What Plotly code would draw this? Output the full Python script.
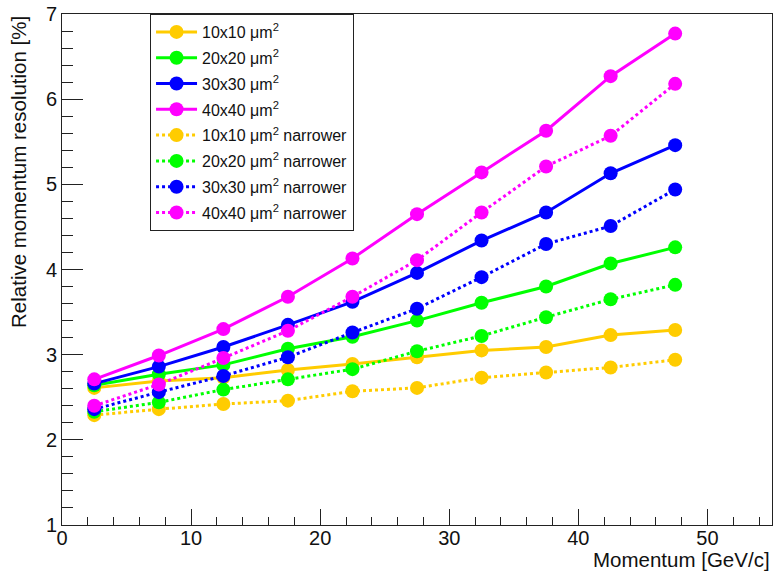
import plotly.graph_objects as go

# Momentum bin centres [GeV/c]
momentum = [2.5, 7.5, 12.5, 17.5, 22.5, 27.5, 32.5, 37.5, 42.5, 47.5]

# Relative momentum resolution [%] per pixel size
res_10 = [2.61, 2.69, 2.73, 2.82, 2.89, 2.97, 3.05, 3.09, 3.23, 3.29]
res_20 = [2.64, 2.77, 2.88, 3.07, 3.21, 3.40, 3.61, 3.80, 4.07, 4.26]
res_30 = [2.66, 2.86, 3.09, 3.35, 3.62, 3.96, 4.34, 4.67, 5.13, 5.46]
res_40 = [2.71, 2.99, 3.30, 3.68, 4.13, 4.65, 5.14, 5.63, 6.27, 6.77]

# Same pixel sizes, narrower configuration
res_10n = [2.29, 2.36, 2.42, 2.46, 2.57, 2.61, 2.73, 2.79, 2.85, 2.94]
res_20n = [2.33, 2.44, 2.59, 2.71, 2.83, 3.04, 3.22, 3.44, 3.65, 3.82]
res_30n = [2.36, 2.56, 2.75, 2.97, 3.26, 3.54, 3.91, 4.30, 4.51, 4.94]
res_40n = [2.40, 2.65, 2.96, 3.28, 3.68, 4.11, 4.67, 5.21, 5.57, 6.18]

names = [
    "10x10 \u03bcm<sup>2</sup>",
    "20x20 \u03bcm<sup>2</sup>",
    "30x30 \u03bcm<sup>2</sup>",
    "40x40 \u03bcm<sup>2</sup>",
    "10x10 \u03bcm<sup>2</sup> narrower",
    "20x20 \u03bcm<sup>2</sup> narrower",
    "30x30 \u03bcm<sup>2</sup> narrower",
    "40x40 \u03bcm<sup>2</sup> narrower",
]
series = [res_10, res_20, res_30, res_40, res_10n, res_20n, res_30n, res_40n]
colors = ["#FFCC00", "#00FF00", "#0000FF", "#FF00FF"] * 2
dashes = ["solid"] * 4 + ["dot"] * 4

FONT = "Liberation Sans, Arial, Helvetica, sans-serif"

fig = go.Figure()
for i, (name, ys, col, dash) in enumerate(zip(names, series, colors, dashes)):
    fig.add_trace(go.Scatter(
        x=momentum, y=ys, name=name, mode="lines+markers",
        line=dict(color=col, width=3, dash=dash),
        marker=dict(color=col, size=14, symbol="circle"),
        legendgroup=f"g{i}",
    ))

axis_common = dict(
    showline=True, linecolor="#222222", linewidth=1, mirror=True,
    ticks="inside", tickcolor="#222222", tickwidth=1,
    showgrid=False, zeroline=False,
    tickfont=dict(family=FONT, size=20, color="#111111"),
)

fig.update_xaxes(
    range=[0, 55], dtick=10, tick0=0, ticklen=16,
    minor=dict(dtick=2, ticklen=8, ticks="inside", tickcolor="#222222"),
    ticklabelstandoff=-5,
    **axis_common,
)
fig.update_yaxes(
    range=[1, 7], dtick=1, tick0=1, ticklen=21,
    minor=dict(dtick=0.2, ticklen=11, ticks="inside", tickcolor="#222222"),
    **axis_common,
)

fig.add_annotation(
    text="Momentum [GeV/c]", xref="paper", yref="paper",
    x=1, y=-0.068, xanchor="right", yanchor="middle", showarrow=False,
    font=dict(family=FONT, size=20.5, color="#111111"),
)
fig.add_annotation(
    text="Relative momentum resolution [%]", xref="paper", yref="paper",
    x=-0.062, y=1, xanchor="center", yanchor="top", textangle=-90,
    showarrow=False, font=dict(family=FONT, size=20.5, color="#111111"),
)

fig.update_layout(
    width=776, height=571,
    margin=dict(l=62, r=3, t=12, b=46),
    plot_bgcolor="white", paper_bgcolor="white",
    showlegend=True,
    legend=dict(
        x=0.124, y=1, xanchor="left", yanchor="top",
        bgcolor="white", bordercolor="#222222", borderwidth=1,
        font=dict(family=FONT, size=16, color="#111111"),
        itemwidth=41, tracegroupgap=2, traceorder="grouped",
    ),
)

fig.write_html("out.html")
